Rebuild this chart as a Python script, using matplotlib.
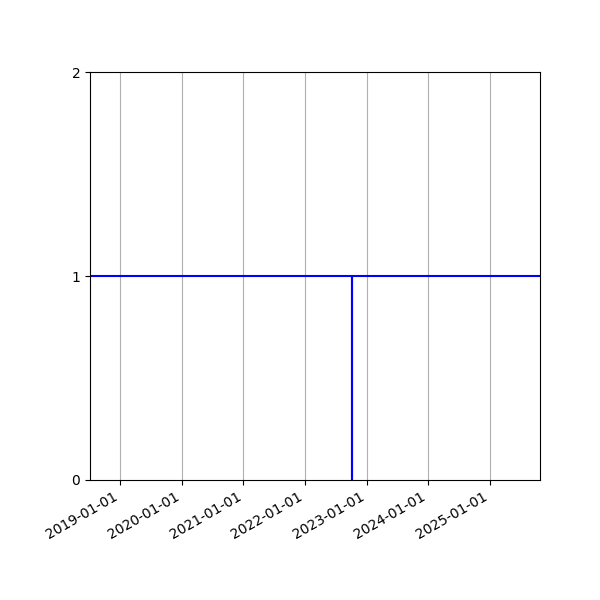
import matplotlib
matplotlib.use("Agg")
import matplotlib.pyplot as plt
import matplotlib.dates as mdates
import numpy as np

dates = np.array(["2018-07-07", "2022-10-08", "2022-10-08", "2022-10-08", "2025-10-24"], dtype="datetime64[D]")
values = [1, 1, 0, 1, 1]
tick_dates = np.array(["2019-01-01", "2020-01-01", "2021-01-01", "2022-01-01",
                       "2023-01-01", "2024-01-01", "2025-01-01"], dtype="datetime64[D]")
y_ticks = [0, 1, 2]

fig, ax = plt.subplots(figsize=(6, 6), dpi=100)
fig.subplots_adjust(left=0.15, right=0.9, top=0.88, bottom=0.2)
ax.plot(dates, values, color="blue", linewidth=1.5)
ax.set_xlim(dates[0], dates[-1])
ax.set_ylim(0, 2)
ax.set_yticks(y_ticks)
ax.set_xticks(tick_dates)
ax.xaxis.set_major_formatter(mdates.DateFormatter("%Y-%m-%d"))
ax.grid(axis="x", color="#b0b0b0")
for lbl in ax.get_xticklabels():
    lbl.set_rotation(30)
    lbl.set_ha("right")
fig.savefig("out.png", dpi=100)
